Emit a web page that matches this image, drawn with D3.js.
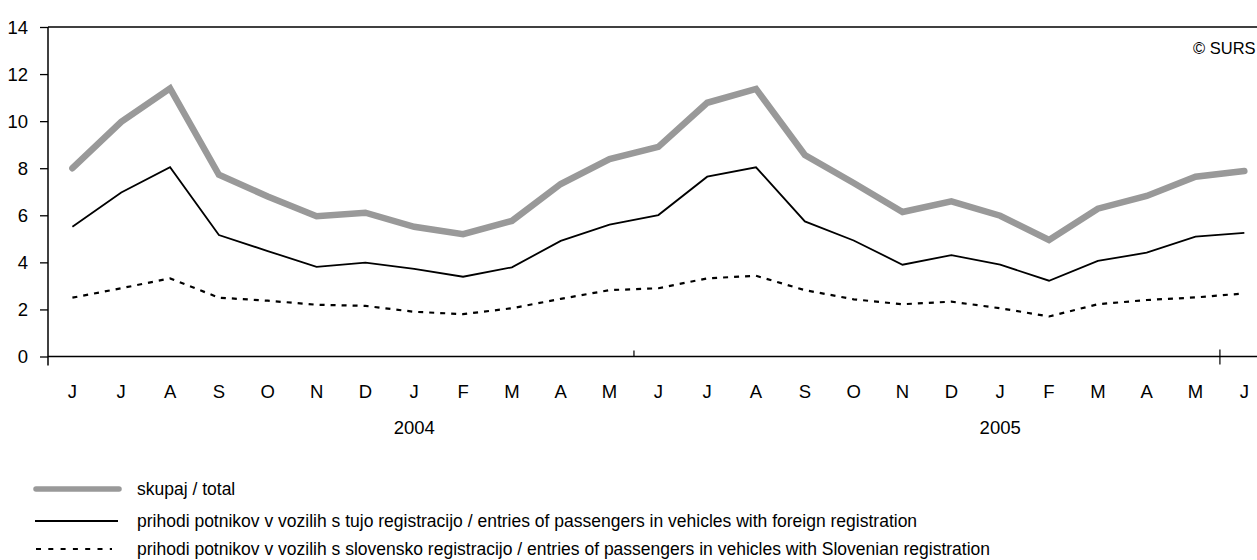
<!DOCTYPE html>
<html>
<head>
<meta charset="utf-8">
<script src="https://cdn.jsdelivr.net/npm/d3@7"></script>
<style>
  html, body { margin: 0; padding: 0; background: #fff; }
  svg { display: block; }
  text { font-family: "Liberation Sans", Arial, sans-serif; fill: #000; }
</style>
</head>
<body>
<svg id="chart" width="1257" height="560"></svg>
<script>
// ---- data ----
const months = ["J","J","A","S","O","N","D","J","F","M","A","M","J","J","A","S","O","N","D","J","F","M","A","M","J"];
const yearLabels = ["2004", "2005"];
const yearLabelIndex = [7, 19];
const yearBoundaryIndex = [0, 12, 24];
const yTicks = [0, 2, 4, 6, 8, 10, 12, 14];

const total = [8.0, 9.97, 11.39, 7.72, 6.8, 5.96, 6.11, 5.51, 5.2, 5.76, 7.33, 8.39, 8.91, 10.78, 11.37,
               8.56, 7.37, 6.14, 6.59, 5.98, 4.95, 6.28, 6.82, 7.64, 7.88];
const foreign = [5.51, 6.97, 8.04, 5.16, 4.48, 3.81, 3.99, 3.72, 3.39, 3.79, 4.91, 5.6, 6.01, 7.64, 8.04,
                 5.74, 4.93, 3.9, 4.31, 3.9, 3.22, 4.06, 4.41, 5.09, 5.25];
const slovenian = [2.5, 2.9, 3.32, 2.5, 2.37, 2.2, 2.15, 1.9, 1.8, 2.05, 2.45, 2.82, 2.9, 3.32, 3.43,
                   2.82, 2.43, 2.22, 2.33, 2.05, 1.7, 2.22, 2.4, 2.51, 2.68];

const seriesNames = [
  "skupaj / total",
  "prihodi potnikov v vozilih s tujo registracijo / entries of passengers in vehicles with foreign registration",
  "prihodi potnikov v vozilih s slovensko registracijo / entries of passengers in vehicles with Slovenian registration"
];

(function () {
// ---- layout ----
const svg = d3.select("#chart");
const W = 1257;
const mLeft = 48, mTop = 27, mBottom = 356.5;
const band = 48.83;
const FS = 18.5;

const x = d3.scaleBand().domain(d3.range(months.length)).range([mLeft, mLeft + band * months.length]).padding(0);
const y = d3.scaleLinear().domain([0, 14]).range([mBottom, mTop]);
const cx = i => x(i) + x.bandwidth() / 2;

// top border
svg.append("line").attr("x1", mLeft).attr("x2", W).attr("y1", y(14)).attr("y2", y(14))
  .attr("stroke", "#000").attr("stroke-width", 1.3);

// y axis
const yAxis = d3.axisLeft(y).tickValues(yTicks).tickSize(8).tickPadding(12).tickFormat(d3.format("d"));
const gy = svg.append("g").attr("transform", `translate(${mLeft},0)`).call(yAxis);
gy.select(".domain").remove();
gy.selectAll(".tick line").attr("stroke", "#000").attr("stroke-width", 1.3);
gy.selectAll(".tick text").attr("font-size", FS).attr("font-family", "Liberation Sans, Arial, sans-serif")
  .attr("fill", "#000").attr("dy", "0.34em");
svg.append("line").attr("x1", mLeft).attr("x2", mLeft).attr("y1", mTop).attr("y2", mBottom + 9)
  .attr("stroke", "#000").attr("stroke-width", 1.5);

// x axis line
svg.append("line").attr("x1", mLeft).attr("x2", W).attr("y1", mBottom).attr("y2", mBottom)
  .attr("stroke", "#000").attr("stroke-width", 1.5);

// year boundary ticks
yearBoundaryIndex.forEach((bi, k) => {
  if (k === 0) return;
  const xx = x(bi);
  const y1 = k === 1 ? mBottom - 6 : mBottom - 7;
  const y2 = k === 1 ? mBottom : mBottom + 8;
  svg.append("line").attr("x1", xx).attr("x2", xx).attr("y1", y1).attr("y2", y2)
    .attr("stroke", "#000").attr("stroke-width", 1.2);
});

// month labels
svg.append("g").selectAll("text").data(months).join("text")
  .attr("x", (d, i) => cx(i)).attr("y", 397.5)
  .attr("text-anchor", "middle").attr("font-size", FS).text(d => d);

// year labels
svg.append("g").selectAll("text").data(yearLabels).join("text")
  .attr("x", (d, i) => cx(yearLabelIndex[i])).attr("y", 434)
  .attr("text-anchor", "middle").attr("font-size", FS).text(d => d);

// copyright
svg.append("text").attr("x", 1193).attr("y", 54).attr("font-size", 16.5).text("© SURS");

// lines
const line = d3.line().x((d, i) => cx(i)).y(d => y(d));
svg.append("path").datum(total).attr("d", line).attr("fill", "none")
  .attr("stroke", "#999999").attr("stroke-width", 6.5).attr("stroke-linejoin", "miter").attr("stroke-linecap", "round");
svg.append("path").datum(foreign).attr("d", line).attr("fill", "none")
  .attr("stroke", "#000").attr("stroke-width", 1.8);
svg.append("path").datum(slovenian).attr("d", line).attr("fill", "none")
  .attr("stroke", "#000").attr("stroke-width", 2.2).attr("stroke-dasharray", "5,6");

// legend
const legY = [489, 521, 549];
const lg = svg.append("g");
lg.append("line").attr("x1", 36).attr("x2", 119).attr("y1", legY[0]).attr("y2", legY[0])
  .attr("stroke", "#999999").attr("stroke-width", 5.5).attr("stroke-linecap", "round");
lg.append("line").attr("x1", 35).attr("x2", 118).attr("y1", legY[1]).attr("y2", legY[1])
  .attr("stroke", "#000").attr("stroke-width", 1.8);
lg.append("line").attr("x1", 36).attr("x2", 112).attr("y1", legY[2]).attr("y2", legY[2])
  .attr("stroke", "#000").attr("stroke-width", 2).attr("stroke-dasharray", "5,7.3");
lg.selectAll("text").data(seriesNames).join("text")
  .attr("x", 137).attr("y", (d, i) => legY[i] + 6.3)
  .attr("font-size", 17.5).text(d => d);
})();
</script>
</body>
</html>
